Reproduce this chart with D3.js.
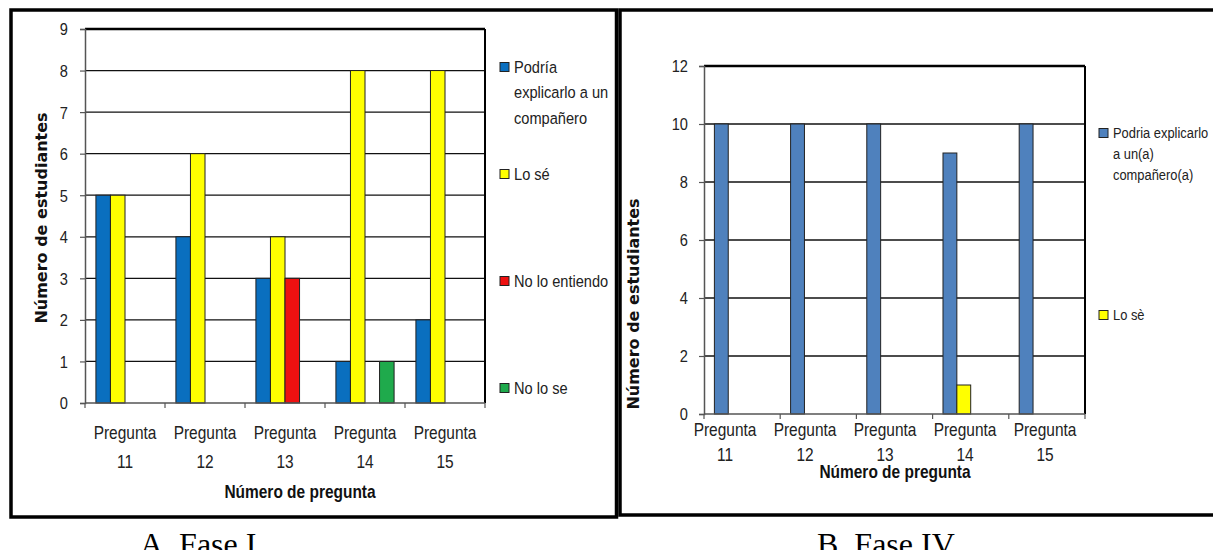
<!DOCTYPE html>
<html>
<head>
<meta charset="utf-8">
<script src="https://cdn.jsdelivr.net/npm/d3@7/dist/d3.min.js"></script>
<style>
  html, body { margin: 0; padding: 0; background: #fff; }
  svg { display: block; }
</style>
</head>
<body>
<svg id="chart" width="1213" height="550"></svg>
<script>
// ---- data ----
const categories = ["Pregunta 11", "Pregunta 12", "Pregunta 13", "Pregunta 14", "Pregunta 15"];

// Fase I
const seriesNamesA = ["Podría explicarlo a un compañero", "Lo sé", "No lo entiendo", "No lo se"];
const podriaA = [5, 4, 3, 1, 2];
const loSeA = [5, 6, 4, 8, 8];
const noEntiendoA = [0, 0, 3, 0, 0];
const noSeA = [0, 0, 0, 1, 0];
const colorsA = ["#0a6fbf", "#ffff00", "#ee1111", "#1faa4c"];
const legendLinesA = [["Podría", "explicarlo a un", "compañero"], ["Lo sé"], ["No lo entiendo"], ["No lo se"]];
const yTicksA = [0, 1, 2, 3, 4, 5, 6, 7, 8, 9];

// Fase IV
const seriesNamesB = ["Podria explicarlo a un(a) compañero(a)", "Lo sè"];
const podriaB = [10, 10, 10, 9, 10];
const loSeB = [0, 0, 0, 1, 0];
const colorsB = ["#4f81bd", "#ffff00"];
const legendLinesB = [["Podria explicarlo", "a un(a)", "compañero(a)"], ["Lo sè"]];
const yTicksB = [0, 2, 4, 6, 8, 10, 12];

const SANS = "Liberation Sans, Arial, sans-serif";
const SX = 0.86; // horizontal squeeze for the condensed chart lettering

const svg = d3.select("#chart");

// condensed text helper: positions the anchor, then squeezes horizontally
function cText(parent, x, y, str, size, opts = {}) {
  return parent.append("text")
    .attr("transform", `translate(${x},${y}) scale(${SX},1)`)
    .attr("font-family", SANS).attr("font-size", size)
    .attr("font-weight", opts.bold ? "bold" : "normal")
    .attr("text-anchor", opts.anchor || "start")
    .attr("dominant-baseline", "central")
    .attr("fill", opts.fill || "#222")
    .text(str);
}

// outer frames of both panels
svg.append("rect").attr("x", 11).attr("y", 10).attr("width", 605.5).attr("height", 507)
  .attr("fill", "none").attr("stroke", "#000").attr("stroke-width", 3.5);
svg.append("rect").attr("x", 620).attr("y", 10).attr("width", 700).attr("height", 505)
  .attr("fill", "none").attr("stroke", "#000").attr("stroke-width", 3.5);

function drawPanel(opt) {
  const g = svg.append("g");
  const x = d3.scaleBand().domain(categories).range([opt.left, opt.right]).padding(0);
  const slot = d3.scaleBand().domain(d3.range(opt.slots)).range([0, x.bandwidth()])
    .paddingInner(0).paddingOuter(0.75);
  const y = d3.scaleLinear().domain([0, opt.yMax]).range([opt.bottom, opt.top]);

  // horizontal gridlines
  g.append("g").selectAll("line").data(opt.yTicks.filter(t => t > 0 && t < opt.yMax)).join("line")
    .attr("x1", opt.left).attr("x2", opt.right)
    .attr("y1", d => y(d)).attr("y2", d => y(d))
    .attr("stroke", "#111").attr("stroke-width", 1.3);

  // bars
  opt.series.forEach((vals, si) => {
    g.append("g").selectAll("rect").data(vals.map((v, i) => ({ c: categories[i], v })).filter(d => d.v > 0))
      .join("rect")
      .attr("x", d => x(d.c) + slot(si))
      .attr("y", d => y(d.v))
      .attr("width", slot.bandwidth())
      .attr("height", d => y(0) - y(d.v))
      .attr("fill", opt.colors[si])
      .attr("stroke", "#222").attr("stroke-width", 1);
  });

  // plot-area border: top and right dark
  g.append("line").attr("x1", opt.left).attr("x2", opt.right).attr("y1", opt.top).attr("y2", opt.top)
    .attr("stroke", "#000").attr("stroke-width", 2.6);
  g.append("line").attr("x1", opt.right).attr("x2", opt.right).attr("y1", opt.top).attr("y2", opt.bottom)
    .attr("stroke", "#000").attr("stroke-width", 2);

  // y axis
  const yAxis = d3.axisLeft(y).tickValues(opt.yTicks).tickSize(5).tickPadding(opt.yPad).tickFormat(d3.format("d"));
  const ya = g.append("g").attr("transform", `translate(${opt.left},0)`).call(yAxis);
  ya.select(".domain").attr("stroke", "#555").attr("stroke-width", 1.5);
  ya.selectAll(".tick line").attr("stroke", "#555").attr("stroke-width", 1.2);
  ya.selectAll(".tick text")
    .attr("x", null).attr("dy", null)
    .attr("transform", `translate(${-(5 + opt.yPad)},0) scale(${SX},1)`)
    .attr("dominant-baseline", "central")
    .attr("font-family", SANS).attr("font-size", 17).attr("fill", "#222");

  // x axis: ticks at category boundaries
  g.append("line").attr("x1", opt.left).attr("x2", opt.right).attr("y1", opt.bottom).attr("y2", opt.bottom)
    .attr("stroke", "#555").attr("stroke-width", 1.5);
  const bounds = categories.map(c => x(c)).concat([opt.right]);
  g.append("g").selectAll("line").data(bounds).join("line")
    .attr("x1", d => d).attr("x2", d => d).attr("y1", opt.bottom).attr("y2", opt.bottom + 5)
    .attr("stroke", "#555").attr("stroke-width", 1.2);

  // category labels (two lines)
  const lx = d3.scaleBand().domain(categories).range(opt.labelRange);
  const lab = g.append("g");
  categories.forEach(c => {
    const parts = c.split(" ");
    const cx = lx(c) + lx.bandwidth() / 2;
    cText(lab, cx, opt.lab1, parts[0], 18, { anchor: "middle" });
    cText(lab, cx, opt.lab2, parts[1], 18, { anchor: "middle" });
  });

  // axis titles
  cText(g, opt.xTitleX, opt.xTitleY, "Número de pregunta", 18, { anchor: "middle", bold: true, fill: "#111" });
  g.append("text").attr("font-family", "DejaVu Sans, sans-serif").attr("font-size", 16)
    .attr("font-weight", "bold").attr("fill", "#111").attr("text-anchor", "middle")
    .attr("dominant-baseline", "central")
    .attr("transform", `translate(${opt.yTitleX},${opt.yTitleY}) rotate(-90)`)
    .text("Número de estudiantes");

  // legend
  const leg = g.append("g");
  opt.legend.forEach((lines, i) => {
    const ly = opt.legTop + i * opt.legStep;
    leg.append("rect").attr("x", opt.legX).attr("y", ly - opt.legBox / 2)
      .attr("width", opt.legBox).attr("height", opt.legBox)
      .attr("fill", opt.colors[i]).attr("stroke", "#222").attr("stroke-width", 1);
    lines.forEach((t, j) => {
      cText(leg, opt.legX + opt.legBox + 5, ly + j * opt.legLine, t, opt.legFont);
    });
  });
}

drawPanel({
  left: 85, right: 485, top: 29, bottom: 403, yMax: 9, yTicks: yTicksA, yPad: 12,
  slots: 4, series: [podriaA, loSeA, noEntiendoA, noSeA], colors: colorsA,
  labelRange: [85, 485], lab1: 433, lab2: 462,
  xTitleX: 300, xTitleY: 492, yTitleX: 41, yTitleY: 218,
  legend: legendLinesA, legX: 500, legTop: 67, legStep: 107, legLine: 25.5, legBox: 9, legFont: 17
});

drawPanel({
  left: 704, right: 1085, top: 66, bottom: 414, yMax: 12, yTicks: yTicksB, yPad: 11,
  slots: 4, series: [podriaB, loSeB], colors: colorsB,
  labelRange: [685, 1085], lab1: 430, lab2: 455,
  xTitleX: 895, xTitleY: 472, yTitleX: 633, yTitleY: 304,
  legend: legendLinesB, legX: 1099, legTop: 133, legStep: 182, legLine: 21, legBox: 9, legFont: 15
});

// panel captions
const cap = svg.append("g").attr("font-family", "Liberation Serif, Times New Roman, serif")
  .attr("font-size", 32).attr("fill", "#000").style("white-space", "pre");
cap.append("text").attr("x", 140).attr("y", 555).text("A.  Fase I");
cap.append("text").attr("x", 817).attr("y", 555).text("B.  Fase IV");
</script>
</body>
</html>
